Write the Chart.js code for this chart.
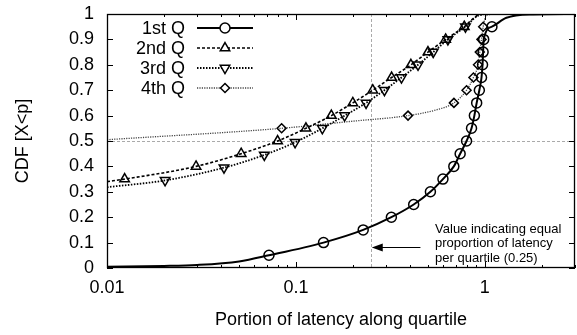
<!DOCTYPE html>
<html>
<head>
<meta charset="utf-8">
<script src="https://cdn.jsdelivr.net/npm/chart.js@4.4.1/dist/chart.umd.min.js"></script>
<style>
  html, body { margin: 0; padding: 0; background: #fff; }
  canvas { display: block; }
</style>
</head>
<body>
<canvas id="cdfChart" width="577" height="335" style="width:577px;height:335px"></canvas>
<script>
// tick labels
const xTicks = [0.01, 0.1, 1];
const yTicks = [0, 0.1, 0.2, 0.3, 0.4, 0.5, 0.6, 0.7, 0.8, 0.9, 1];

// 1st Q: markers, and extra points of the curve (no marker)
const q1MarkX = [0.072, 0.14, 0.227, 0.32, 0.42, 0.515, 0.60, 0.685, 0.74, 0.80, 0.85, 0.88, 0.905, 0.935, 0.96, 0.972, 0.979, 0.986, 1.09];
const q1MarkY = [0.05, 0.10, 0.15, 0.20, 0.25, 0.30, 0.35, 0.40, 0.45, 0.50, 0.55, 0.60, 0.65, 0.70, 0.75, 0.80, 0.85, 0.90, 0.95];
const q1LineX = [0.01, 0.02, 0.03, 0.05, 1.3, 1.8, 3];
const q1LineY = [0.005, 0.008, 0.012, 0.026, 0.985, 0.998, 1.0];

// 2nd Q
const q2MarkX = [0.0124, 0.0296, 0.0513, 0.080, 0.113, 0.154, 0.20, 0.255, 0.321, 0.406, 0.50, 0.62, 0.778];
const q2MarkY = [0.35, 0.40, 0.45, 0.50, 0.55, 0.60, 0.65, 0.70, 0.75, 0.80, 0.85, 0.90, 0.95];
const q2LineX = [0.01, 0.92, 1.05, 3];
const q2LineY = [0.34, 0.995, 1.0, 1.0];

// 3rd Q
const q3MarkX = [0.0203, 0.0416, 0.068, 0.099, 0.138, 0.181, 0.235, 0.294, 0.362, 0.443, 0.533, 0.637, 0.789];
const q3MarkY = [0.345, 0.395, 0.445, 0.495, 0.55, 0.60, 0.65, 0.70, 0.75, 0.80, 0.85, 0.90, 0.95];
const q3LineX = [0.01, 0.93, 1.06, 3];
const q3LineY = [0.318, 0.995, 1.0, 1.0];

// 4th Q
const q4MarkX = [0.084, 0.392, 0.686, 0.80, 0.87, 0.92, 0.94, 0.96, 0.98];
const q4MarkY = [0.55, 0.60, 0.65, 0.70, 0.75, 0.80, 0.85, 0.90, 0.95];
const q4LineX = [0.01, 0.2, 0.55, 1.02, 1.2, 3];
const q4LineY = [0.505, 0.578, 0.622, 0.995, 1.0, 1.0];

const labels = ['1st Q', '2nd Q', '3rd Q', '4th Q'];

const FONT = '"Liberation Sans", Arial, Helvetica, sans-serif';

// merge marker points and plain curve points into one sorted series
function series(mx, my, lx, ly) {
  const pts = mx.map((x, i) => ({ x: x, y: my[i], m: true }))
    .concat(lx.map((x, i) => ({ x: x, y: ly[i], m: false })));
  pts.sort((a, b) => a.x - b.x);
  return pts;
}

function makeSet(label, pts, style) {
  return Object.assign({
    label: label,
    data: pts,
    showLine: true,
    cubicInterpolationMode: 'monotone',
    borderColor: '#000',
    backgroundColor: 'rgba(0,0,0,0)',
    pointBorderColor: '#000',
    pointBackgroundColor: 'rgba(0,0,0,0)',
    pointBorderWidth: 1.5,
    pointRadius: c => (c.raw && c.raw.m ? style.r : 0),
    pointHoverRadius: 0
  }, style);
}

const datasets = [
  makeSet(labels[0], series(q1MarkX, q1MarkY, q1LineX, q1LineY),
    { borderWidth: 2, borderDash: [], pointStyle: 'circle', r: 5, pointRotation: 0 }),
  makeSet(labels[1], series(q2MarkX, q2MarkY, q2LineX, q2LineY),
    { borderWidth: 1.6, borderDash: [3, 2], pointStyle: 'triangle', r: 5.5, pointRotation: 0 }),
  makeSet(labels[2], series(q3MarkX, q3MarkY, q3LineX, q3LineY),
    { borderWidth: 1.8, borderDash: [1.5, 1.5], pointStyle: 'triangle', r: 5.5, pointRotation: 180 }),
  makeSet(labels[3], series(q4MarkX, q4MarkY, q4LineX, q4LineY),
    { borderWidth: 1.3, borderDash: [1.2, 1.2], borderColor: '#444', pointStyle: 'rectRot', r: 4.5, pointRotation: 0 })
];

// frame, inward ticks, dashed reference lines, legend and the note
const decor = {
  id: 'decor',
  beforeDatasetsDraw(chart) {
    const { ctx, chartArea: a, scales: { x, y } } = chart;
    ctx.save();
    ctx.strokeStyle = '#aaa';
    ctx.lineWidth = 1;
    ctx.setLineDash([3, 2]);
    const px = Math.round(x.getPixelForValue(0.25)) + 0.5;
    const py = Math.round(y.getPixelForValue(0.5)) + 0.5;
    ctx.beginPath();
    ctx.moveTo(px, a.top); ctx.lineTo(px, a.bottom);
    ctx.moveTo(a.left, py); ctx.lineTo(a.right, py);
    ctx.stroke();
    ctx.restore();
  },
  afterDatasetsDraw(chart) {
    const { ctx, chartArea: a, scales: { x, y } } = chart;
    ctx.save();
    ctx.strokeStyle = '#000';
    ctx.lineWidth = 1;
    ctx.setLineDash([]);
    ctx.beginPath();
    // minor and major x ticks, top and bottom
    for (let d = -2; d <= 0; d++) {
      for (let k = 1; k <= 9; k++) {
        const v = k * Math.pow(10, d);
        if (v > x.max) break;
        const p = Math.round(x.getPixelForValue(v)) + 0.5;
        const len = k === 1 ? 6 : 3;
        ctx.moveTo(p, a.bottom); ctx.lineTo(p, a.bottom - len);
        ctx.moveTo(p, a.top); ctx.lineTo(p, a.top + len);
      }
    }
    yTicks.forEach(v => {
      const p = Math.round(y.getPixelForValue(v)) + 0.5;
      ctx.moveTo(a.left, p); ctx.lineTo(a.left + 6, p);
      ctx.moveTo(a.right, p); ctx.lineTo(a.right - 6, p);
    });
    ctx.stroke();
    ctx.lineWidth = 1.3;
    ctx.strokeRect(a.left + 0.5, a.top + 0.5, a.right - a.left - 1, a.bottom - a.top - 1);
    ctx.restore();
  },
  afterDraw(chart) {
    const { ctx, chartArea: a, scales: { x, y } } = chart;
    ctx.save();
    // legend
    ctx.font = '18px ' + FONT;
    ctx.fillStyle = '#000';
    ctx.textAlign = 'right';
    ctx.textBaseline = 'middle';
    chart.data.datasets.forEach((ds, i) => {
      const ry = a.top + 14 + i * 20;
      ctx.fillText(ds.label, a.left + 78, ry + 1);
      ctx.save();
      ctx.strokeStyle = ds.borderColor;
      ctx.lineWidth = ds.borderWidth;
      ctx.setLineDash(ds.borderDash);
      ctx.beginPath();
      ctx.moveTo(a.left + 90, ry); ctx.lineTo(a.left + 146, ry);
      ctx.stroke();
      ctx.setLineDash([]);
      ctx.strokeStyle = '#000';
      ctx.fillStyle = '#fff';
      ctx.lineWidth = ds.pointBorderWidth;
      Chart.helpers.drawPoint(ctx, {
        pointStyle: ds.pointStyle, rotation: ds.pointRotation,
        radius: ds.r, borderWidth: ds.pointBorderWidth
      }, a.left + 118, ry);
      ctx.restore();
    });

    // note with arrow pointing at the 0.25 line
    const tipX = x.getPixelForValue(0.252);
    const tailX = x.getPixelForValue(0.456);
    const ay = Math.round(y.getPixelForValue(0.0815)) + 0.5;
    ctx.strokeStyle = '#000';
    ctx.fillStyle = '#000';
    ctx.lineWidth = 1;
    ctx.beginPath();
    ctx.moveTo(tailX, ay); ctx.lineTo(tipX + 8, ay);
    ctx.stroke();
    ctx.beginPath();
    ctx.moveTo(tipX, ay); ctx.lineTo(tipX + 11, ay - 4); ctx.lineTo(tipX + 11, ay + 4);
    ctx.closePath();
    ctx.fill();
    ctx.font = '13px ' + FONT;
    ctx.textAlign = 'left';
    const tx = x.getPixelForValue(0.545);
    ['Value indicating equal', 'proportion of latency', 'per quartile (0.25)'].forEach((t, i) => {
      ctx.fillText(t, tx, y.getPixelForValue([0.1524, 0.097, 0.038][i]));
    });
    ctx.restore();
  }
};

const ctx = document.getElementById('cdfChart').getContext('2d');
new Chart(ctx, {
  type: 'scatter',
  data: { datasets: datasets },
  options: {
    responsive: false,
    animation: false,
    layout: { padding: { top: 14, right: 2, left: 0, bottom: 0 } },
    plugins: { legend: { display: false }, tooltip: { enabled: false } },
    scales: {
      x: {
        type: 'logarithmic',
        min: 0.01,
        max: 3,
        afterBuildTicks: s => { s.ticks = xTicks.map(v => ({ value: v })); },
        afterFit: s => { s.height = 67; s.paddingLeft = 0; s.paddingRight = 0; },
        ticks: {
          autoSkip: false, maxRotation: 0, color: '#000', padding: 9,
          font: { family: FONT, size: 18 },
          callback: v => String(v)
        },
        grid: { drawOnChartArea: false, drawTicks: false },
        border: { display: false },
        title: {
          display: true, text: 'Portion of latency along quartile', color: '#000',
          font: { family: FONT, size: 18 }, padding: { top: 0, bottom: 4 }
        }
      },
      y: {
        min: 0,
        max: 1,
        afterBuildTicks: s => { s.ticks = yTicks.map(v => ({ value: v })); },
        afterFit: s => { s.width = 107; s.paddingTop = 0; s.paddingBottom = 0; },
        ticks: {
          autoSkip: false, color: '#000', padding: 13,
          font: { family: FONT, size: 18 },
          callback: v => String(v)
        },
        grid: { drawOnChartArea: false, drawTicks: false },
        border: { display: false },
        title: {
          display: true, text: 'CDF [X<p]', color: '#000',
          font: { family: FONT, size: 18 }, padding: { top: 12, bottom: 0 }
        }
      }
    }
  },
  plugins: [decor]
});
</script>
</body>
</html>
